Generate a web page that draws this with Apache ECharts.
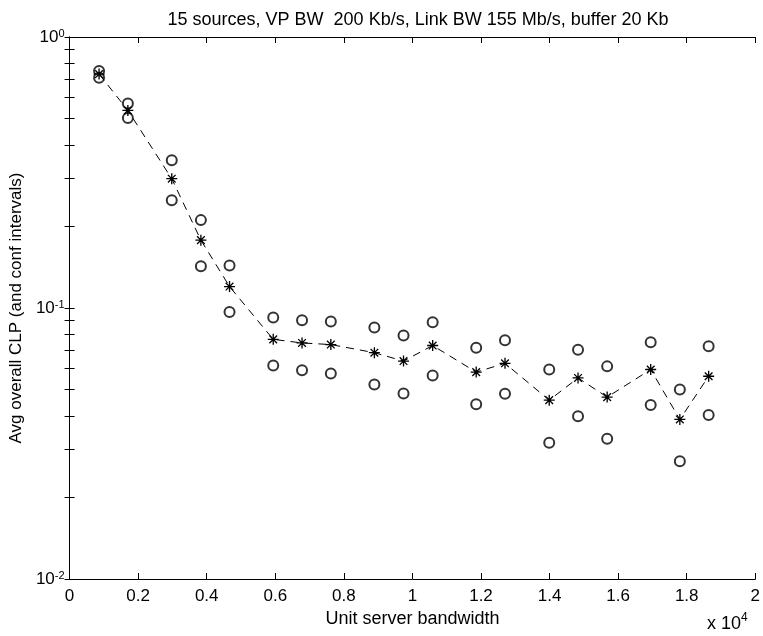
<!DOCTYPE html>
<html>
<head>
<meta charset="utf-8">
<script src="https://cdn.jsdelivr.net/npm/echarts@6/dist/echarts.min.js"></script>
<style>
  html, body { margin: 0; padding: 0; background: #fff; }
  #chart { width: 763px; height: 636px; }
</style>
</head>
<body>
<div id="chart"></div>
<script>
// unit server bandwidth (x 10^4)
const bandwidth = [0.086, 0.170, 0.298, 0.383, 0.4665, 0.594, 0.678, 0.762, 0.889, 0.974,
  1.059, 1.186, 1.270, 1.399, 1.483, 1.568, 1.695, 1.780, 1.864];
// avg overall CLP
const clpMean = [0.730, 0.536, 0.300, 0.178, 0.120, 0.0766, 0.0743, 0.0733, 0.0684, 0.0637,
  0.0727, 0.0580, 0.0625, 0.0457, 0.0552, 0.0469, 0.0593, 0.0388, 0.0560];
// confidence interval bounds
const clpUpper = [0.749, 0.568, 0.351, 0.211, 0.1434, 0.0922, 0.0901, 0.0891, 0.0847, 0.0791,
  0.0886, 0.0714, 0.0760, 0.0593, 0.0702, 0.0609, 0.0747, 0.0500, 0.0722];
const clpLower = [0.708, 0.502, 0.2496, 0.1425, 0.0966, 0.0614, 0.0589, 0.0573, 0.0522, 0.0484,
  0.0563, 0.0441, 0.0483, 0.0318, 0.0399, 0.0329, 0.0439, 0.0272, 0.0403];

const yMajor = [0.01, 0.1, 1];
const yTicks = [];
for (let d = 0.01; d < 1; d *= 10) {
  for (let k = 1; k < 10; k++) yTicks.push(+(k * d).toPrecision(3));
}
yTicks.push(1);

const font = 'Liberation Sans, Arial, Helvetica, sans-serif';
// asterisk marker drawn as filled thin bars
const starPath = 'path://M0 8.8H20V11.2H0Z M8.8 0H11.2V20H8.8Z M2.2 3.9L3.9 2.2L17.8 16.1L16.1 17.8Z M16.1 2.2L17.8 3.9L3.9 17.8L2.2 16.1Z';

const pairs = (ys) => bandwidth.map((x, i) => [x, ys[i]]);

const xBase = {
  type: 'value',
  min: 0,
  max: 2,
  interval: 0.2,
  axisLine: { show: true, onZero: false, lineStyle: { color: '#000', width: 1 } },
  axisTick: { show: true, inside: true, length: 6, lineStyle: { color: '#000' } },
  splitLine: { show: false },
};
const yBase = {
  type: 'log',
  logBase: 10,
  min: 0.01,
  max: 1,
  axisLine: { show: true, lineStyle: { color: '#000', width: 1 } },
  axisTick: { show: true, inside: true, length: 5, customValues: yTicks, lineStyle: { color: '#000' } },
  splitLine: { show: false },
  minorTick: { show: false },
};

const chart = echarts.init(document.getElementById('chart'));
chart.setOption({
  animation: false,
  backgroundColor: '#fff',
  textStyle: { fontFamily: font },
  title: {
    text: '15 sources, VP BW  200 Kb/s, Link BW 155 Mb/s, buffer 20 Kb',
    left: 413,
    textAlign: 'center',
    top: 6,
    textStyle: { fontFamily: font, fontSize: 18, fontWeight: 'normal', color: '#000' },
  },
  grid: { left: 68, right: 6, top: 37, bottom: 57 },
  xAxis: [
    {
      ...xBase,
      position: 'bottom',
      name: 'Unit server bandwidth',
      nameLocation: 'middle',
      nameGap: 25,
      nameTextStyle: { fontFamily: font, fontSize: 18, color: '#000' },
      axisLabel: { color: '#000', fontSize: 17, fontFamily: font, margin: 9, formatter: (v) => String(+v.toFixed(1)) },
    },
    { ...xBase, position: 'top', axisLabel: { show: false } },
  ],
  yAxis: [
    {
      ...yBase,
      position: 'left',
      name: 'Avg overall CLP (and conf intervals)',
      nameLocation: 'middle',
      nameGap: 40,
      nameTextStyle: { fontFamily: font, fontSize: 17, color: '#000' },
      axisLabel: {
        customValues: yMajor,
        margin: 5,
        formatter: (v) => '{b|10}{s|' + Math.round(Math.log10(v)) + '}',
        rich: {
          b: { fontSize: 17, fontFamily: font, color: '#000', verticalAlign: 'bottom', lineHeight: 18 },
          s: { fontSize: 11, fontFamily: font, color: '#000', verticalAlign: 'top', lineHeight: 18, padding: [0, 0, 12, 0] },
        },
      },
    },
    { ...yBase, position: 'right', axisLabel: { show: false } },
  ],
  graphic: [
    {
      type: 'text',
      left: 707,
      top: 612,
      style: {
        rich: {
          b: { fontSize: 18, fontFamily: font, fill: '#000' },
          s: { fontSize: 12, fontFamily: font, fill: '#000', padding: [0, 0, 12, 0] },
        },
        text: '{b|x 10}{s|4}',
      },
    },
  ],
  series: [
    {
      name: 'mean',
      type: 'line',
      data: pairs(clpMean),
      symbol: starPath,
      symbolSize: 11,
      itemStyle: { color: '#000' },
      lineStyle: { color: '#000', width: 1, type: [8, 6] },
      z: 3,
    },
    {
      name: 'upper',
      type: 'scatter',
      data: pairs(clpUpper),
      symbol: 'emptyCircle',
      symbolSize: 10,
      itemStyle: { color: '#000', borderWidth: 1 },
    },
    {
      name: 'lower',
      type: 'scatter',
      data: pairs(clpLower),
      symbol: 'emptyCircle',
      symbolSize: 10,
      itemStyle: { color: '#000', borderWidth: 1 },
    },
  ],
});

window.addEventListener('resize', () => chart.resize());
</script>
</body>
</html>
